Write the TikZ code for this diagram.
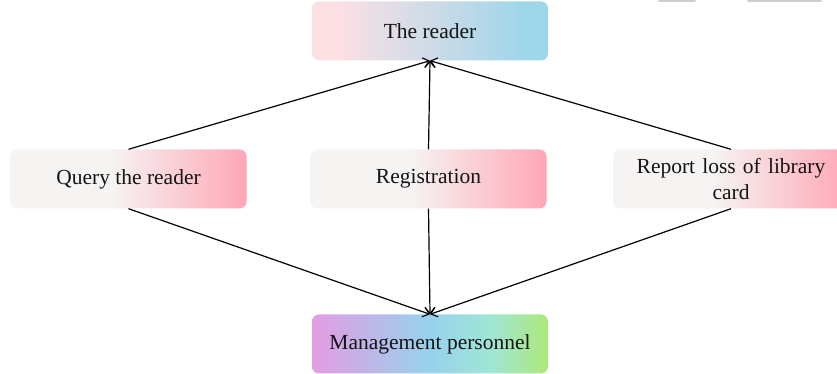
\documentclass[tikz,border=0pt]{standalone}
\usepackage{fontspec}
\setmainfont{Liberation Serif}
\usetikzlibrary{arrows.meta}

% horizontal fills; the node's width maps onto 25bp..75bp
\definecolor{rpink}{RGB}{253,224,228}
\definecolor{rblue}{RGB}{158,214,234}
\definecolor{mgray}{RGB}{245,244,243}
\definecolor{mpink}{RGB}{255,166,182}
\definecolor{bviolet}{RGB}{222,160,228}
\definecolor{bblue}{RGB}{150,210,236}
\definecolor{bcyan}{RGB}{160,230,212}
\definecolor{bgreen}{RGB}{172,232,128}
\definecolor{tabgray}{RGB}{205,205,205}

\pgfdeclarehorizontalshading{readerfill}{100bp}{color(0bp)=(rpink); color(30bp)=(rpink); color(70bp)=(rblue); color(100bp)=(rblue)}
\pgfdeclarehorizontalshading{taskfill}{100bp}{color(0bp)=(mgray); color(46bp)=(mgray); color(75bp)=(mpink); color(100bp)=(mpink)}
\pgfdeclarehorizontalshading{stafffill}{100bp}{color(0bp)=(bviolet); color(27bp)=(bviolet); color(50bp)=(bblue); color(63bp)=(bcyan); color(74bp)=(bgreen); color(100bp)=(bgreen)}

\tikzset{
  box/.style={rounded corners=7pt, minimum width=236pt, minimum height=59pt,
    inner sep=0pt, align=center, font=\fontsize{21.5}{26}\selectfont, text=black!92},
  link/.style={line width=1.2pt, black},
  tip/.style={-{Straight Barb[length=6pt,width=10pt,line width=1.1pt]}},
}

\begin{document}
\begin{tikzpicture}[x=1pt,y=1pt]
\useasboundingbox (0,0) rectangle (837,374);

% small gray tabs at the upper edge
\fill[tabgray, rounded corners=2pt] (658,384) rectangle (696,372);
\fill[tabgray, rounded corners=2pt] (747,384) rectangle (822,372);

\node[box, shading=readerfill] (reader) at (430,343) {The reader};
\node[box, shading=taskfill] (query) at (128.5,195) {Query the reader};
\node[box, shading=taskfill] (reg) at (428.5,195) {Registration};
\node[box, shading=taskfill, text width=222pt] (loss) at (731,195) {Report loss of library\\card};
\node[box, shading=stafffill] (staff) at (430,30) {Management personnel};

\draw[link, tip] (query.north) -- (reader.south);
\draw[link, tip] (reg.north) -- (reader.south);
\draw[link, tip] (loss.north) -- (reader.south);

\draw[link, tip] (query.south) -- (staff.north);
\draw[link, tip] (reg.south) -- (staff.north);
\draw[link, tip] (loss.south) -- (staff.north);
\end{tikzpicture}
\end{document}
